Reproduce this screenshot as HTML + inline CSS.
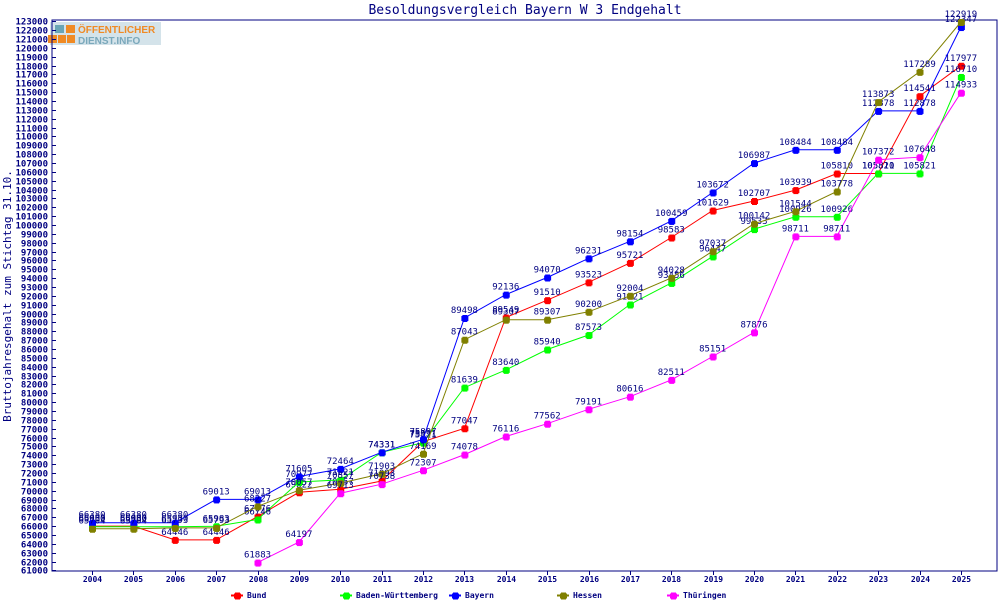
<!DOCTYPE html>
<html><head><meta charset="utf-8"><style>
html,body{margin:0;padding:0;background:#fff;width:1000px;height:600px;overflow:hidden}
svg{display:block;font-family:"DejaVu Sans Mono","Liberation Mono",monospace}
</style></head><body>
<svg id="chart" width="1000" height="600"></svg>
<script>
const years=[2004,2005,2006,2007,2008,2009,2010,2011,2012,2013,2014,2015,2016,2017,2018,2019,2020,2021,2022,2023,2024,2025];
const bund=[66000,66000,64446,64446,67076,69822,70157,71093,75531,77047,89549,91510,93523,95721,98583,101629,102707,103939,105810,105810,114541,117977];
const bw=[65930,65930,65930,65983,66746,70977,71221,74331,75421,81639,83640,85940,87573,91021,93456,96447,99533,100926,100926,105821,105821,116710];
const bayern=[66380,66380,66380,69013,69013,71605,72464,74331,75807,89498,92136,94070,96231,98154,100459,103672,106987,108484,108484,112878,112878,122347];
const hessen=[65704,65704,65793,65793,68227,70057,70857,71903,74169,87043,89307,89307,90200,92004,94028,97037,100142,101544,103778,113873,117289,122919];
const thueringen=[null,null,null,null,61883,64197,69713,70738,72307,74078,76116,77562,79191,80616,82511,85151,87876,98711,98711,107372,107648,114933];
const seriesNames=["Bund","Baden-Württemberg","Bayern","Hessen","Thüringen"];
const yMin=61000,yMax=123000;
const NS="http://www.w3.org/2000/svg";
const svg=document.getElementById('chart');
const L=52,R=997,T=20,B=571;
function xs(i){return 92+i*41.375;}
function ys(v){return 570.4-(v-yMin)/1000*8.857;}
function mk(tag,attrs,parent){const e=document.createElementNS(NS,tag);for(const k in attrs)e.setAttribute(k,attrs[k]);(parent||svg).appendChild(e);return e;}
const navy="#000080";
let t=mk('text',{x:525,y:14,'text-anchor':'middle','font-size':13,fill:navy});
t.textContent="Besoldungsvergleich Bayern W 3 Endgehalt";


// logo
const lg=mk('g',{});


mk('rect',{x:50,y:22,width:111,height:23,fill:'#d4e3ea'},lg);
mk('rect',{x:55,y:25,width:9,height:8,fill:'#6aa5b5'},lg);
mk('rect',{x:66,y:25,width:9,height:8,fill:'#f08a24'},lg);
mk('rect',{x:48,y:35,width:9,height:8,fill:'#f08a24'},lg);
mk('rect',{x:58,y:35,width:8,height:8,fill:'#f08a24'},lg);
mk('rect',{x:67,y:35,width:8,height:8,fill:'#f08a24'},lg);
let l1=mk('text',{x:78,y:33,'font-size':10,'font-weight':'bold',fill:'#f08a24','font-family':'Liberation Sans,sans-serif'},lg);l1.textContent="ÖFFENTLICHER";
let l2=mk('text',{x:78,y:44,'font-size':10,'font-weight':'bold',fill:'#7aa8bb','font-family':'Liberation Sans,sans-serif'},lg);l2.textContent="DIENST.INFO";
// frame
const fr=mk('rect',{x:L,y:T,width:R-L,height:B-T,fill:'none',stroke:navy,'stroke-width':1});


// y ticks
for(let v=yMin;v<=yMax;v+=1000){
  const y=Math.round(ys(v))+0.5;
  mk('line',{x1:L,x2:L+4,y1:y,y2:y,stroke:navy});
  const tl=mk('text',{x:48,y:y+3,'text-anchor':'end','font-size':9,'font-weight':'bold',fill:navy});
  tl.textContent=v;
  
  
}
years.forEach((yr,i)=>{
  const x=Math.round(xs(i))+0.5;
  mk('line',{x1:x,x2:x,y1:B,y2:B+4,stroke:navy});
  const tl=mk('text',{x:x,y:582,'text-anchor':'middle','font-size':8,'font-weight':'bold',fill:navy});
  tl.textContent=yr;
  
  
});
const yt=mk('text',{transform:'translate(11,296) rotate(-90)','text-anchor':'middle','font-size':11,fill:navy});
yt.textContent="Bruttojahresgehalt zum Stichtag 31.10.";


function marker(x,y,c,g){
  mk('rect',{x:x-3,y:y-2,width:7,height:5,fill:c},g);
  mk('rect',{x:x-2,y:y-3,width:5,height:7,fill:c},g);
}
const data=[bund,bw,bayern,hessen,thueringen];
const colors=["#ff0000","#00ff00","#0000ff","#808000","#ff00ff"];
const legX=[237,346,455,563,673];
data.forEach((arr,s)=>{
  const g=mk('g',{});
  
  
  let pts=[];
  arr.forEach((v,i)=>{if(v!=null)pts.push(xs(i).toFixed(1)+','+ys(v).toFixed(1));});
  mk('polyline',{points:pts.join(' '),fill:'none',stroke:colors[s],'stroke-width':1},g);
  arr.forEach((v,i)=>{
    if(v==null)return;
    marker(xs(i),ys(v),colors[s],g);
    const lb=mk('text',{x:xs(i),y:ys(v)-5,'text-anchor':'middle','font-size':9,fill:navy},g);
    lb.textContent=v;
  });
  const le=mk('g',{});
  
  
  mk('line',{x1:legX[s]-6,x2:legX[s]+6,y1:595.5,y2:595.5,stroke:colors[s],'stroke-width':2},le);
  marker(legX[s],595.5,colors[s],le);
  const lt=mk('text',{x:legX[s]+10,y:598,'font-size':8,'font-weight':'bold',fill:navy},le);
  lt.textContent=seriesNames[s];
});
</script>
</body></html>
